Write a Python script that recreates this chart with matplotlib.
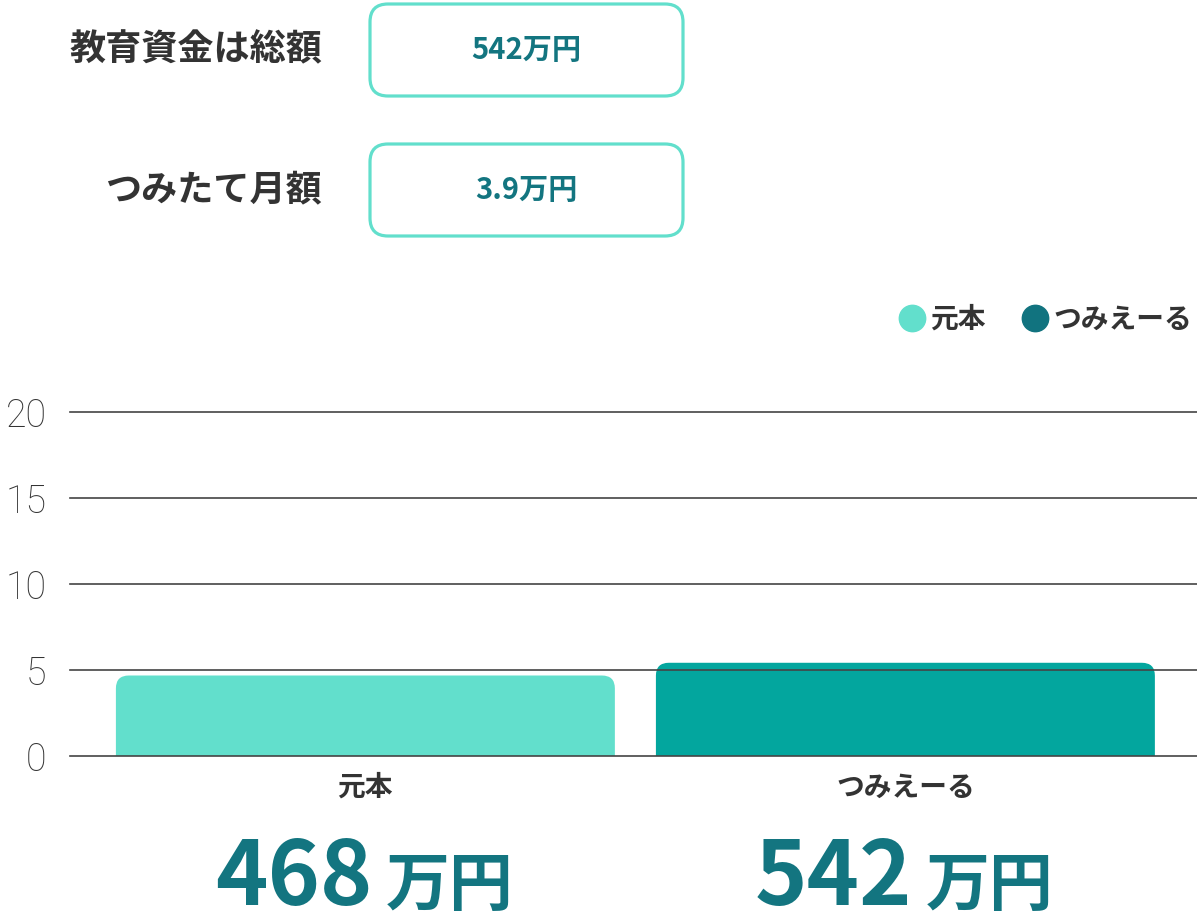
import matplotlib
matplotlib.use('Agg')
import matplotlib.pyplot as plt
from matplotlib.path import Path
from matplotlib.patches import PathPatch, FancyBboxPatch
from matplotlib.lines import Line2D
import matplotlib.transforms as mtransforms

plt.rcParams['font.family'] = ['Noto Sans CJK JP', 'DejaVu Sans']

# data
categories = ['元本', 'つみえーる']
values = [4.68, 5.42]            # 100万円 units
amount_labels = ['468', '542']
yticks = [0, 5, 10, 15, 20]
info_labels = ['教育資金は総額', 'つみたて月額']
info_values = ['542万円', '3.9万円']

bar_colors = ['#62dfcc', '#03a69e']
legend_colors = ['#62dfcc', '#11737f']
text_dark = '#333333'
teal_text = '#137580'

fig = plt.figure(figsize=(11.97, 9.22), dpi=100)
W, H = 1197, 922

ax = fig.add_axes([70 / W, (H - 756) / H, 1127 / W, 344 / H])
ax.set_xlim(-0.547, 1.54)
ax.set_ylim(0, 20)
for s in ax.spines.values():
    s.set_visible(False)

def rounded_bar(x, w, h, rx, ry):
    x0, x1 = x - w / 2, x + w / 2
    verts = [(x0, 0), (x0, h - ry), (x0, h), (x0 + rx, h), (x1 - rx, h),
             (x1, h), (x1, h - ry), (x1, 0), (x0, 0)]
    codes = [Path.MOVETO, Path.LINETO, Path.CURVE3, Path.CURVE3, Path.LINETO,
             Path.CURVE3, Path.CURVE3, Path.LINETO, Path.CLOSEPOLY]
    return Path(verts, codes)

for i, v in enumerate(values):
    p = rounded_bar(i, 0.924, v, 0.024, 0.75)
    ax.add_patch(PathPatch(p, facecolor=bar_colors[i], edgecolor='none', zorder=1))

for t in yticks:
    ax.axhline(t, color='#444444', lw=1.2, zorder=3, clip_on=False)

ax.set_yticks(yticks)
ax.set_yticklabels([str(t) for t in yticks], family=['Roboto', 'DejaVu Sans'],
                   fontweight='light', fontsize=27, color=text_dark)
ax.tick_params(axis='y', length=0, pad=17)
ax.set_xticks(range(len(categories)))
ax.set_xticklabels(categories, fontsize=20, fontweight='bold', color=text_dark)
ax.tick_params(axis='x', length=0, pad=13)

# big amounts under each bar
trans = mtransforms.blended_transform_factory(ax.transData, fig.transFigure)
for i, lab in enumerate(amount_labels):
    ax.text(i + 0.013, (H - 905) / H, lab, transform=trans, ha='right', va='baseline',
            fontsize=64, fontweight='bold', color=teal_text)
    ax.text(i + 0.037, (H - 905) / H, '万円', transform=trans, ha='left', va='baseline',
            fontsize=46, fontweight='bold', color=teal_text)

# overlay in pixel coordinates for the header boxes and legend
ov = fig.add_axes([0, 0, 1, 1], zorder=5)
ov.set_xlim(0, W)
ov.set_ylim(H, 0)
ov.axis('off')

box_y = [2, 142]
for lab, val, y0 in zip(info_labels, info_values, box_y):
    ov.add_patch(FancyBboxPatch((370, y0 + 2), 313, 92,
                                boxstyle='round,pad=0,rounding_size=18',
                                facecolor='white', edgecolor='#62dfcc', lw=2.3))
    ov.text(322, y0 + 48, lab, ha='right', va='center', fontsize=26,
            fontweight='bold', color=text_dark)
    ov.text(526, y0 + 48, val, ha='center', va='center', fontsize=21,
            fontweight='bold', color=teal_text)

handles = [Line2D([], [], marker='o', ls='none', markersize=19, color=c)
           for c in legend_colors]
leg = fig.legend(handles, categories, loc='upper right',
                 bbox_to_anchor=(1206 / W, (H - 292) / H), ncol=2, frameon=False,
                 prop={'size': 20, 'weight': 'bold'}, handletextpad=0.15,
                 columnspacing=1.3, handlelength=1.0, borderpad=0)
for t in leg.get_texts():
    t.set_color(text_dark)

fig.savefig('out.png', dpi=100)
